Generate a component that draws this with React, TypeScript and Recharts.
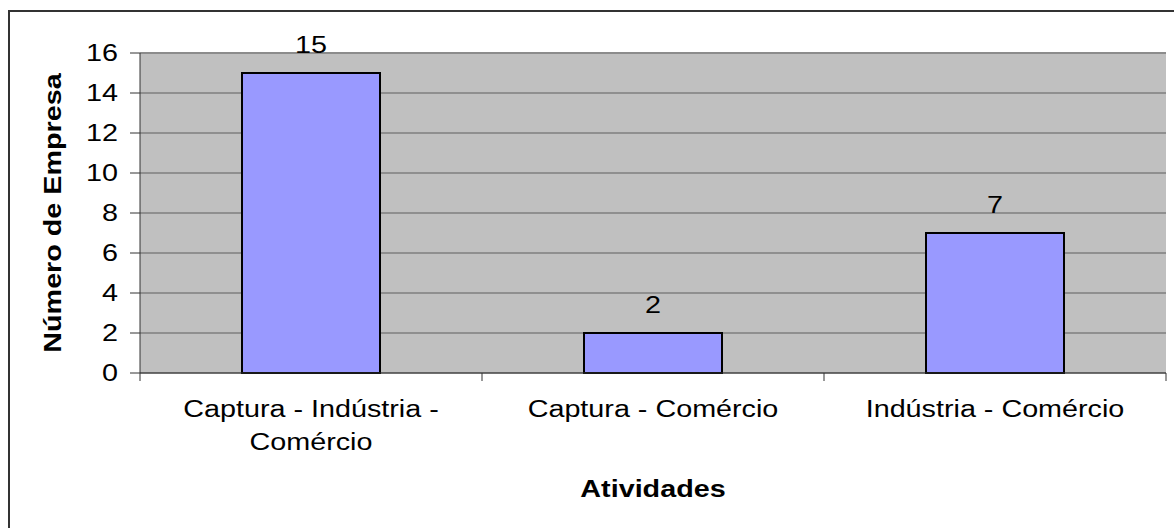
import React from 'react';
import { BarChart, Bar, XAxis, YAxis, CartesianGrid, LabelList, Label, ReferenceLine } from 'recharts';

// categorias e valores
const categorias = ['Captura - Indústria - Comércio', 'Captura - Comércio', 'Indústria - Comércio'];
const empresas = [15, 2, 7];
const linhasRotulo = [['Captura - Indústria -', 'Comércio'], ['Captura - Comércio'], ['Indústria - Comércio']];
const yTicks = [0, 2, 4, 6, 8, 10, 12, 14, 16];

const FONT = '"Liberation Sans", Arial, sans-serif';
const STRETCH = 1.25; // texto do original é mais largo
const FS = 23;

const data = categorias.map((c, i) => ({ categoria: c, valor: empresas[i], idx: i }));

function YTick(props: any) {
  const { x, y, payload } = props;
  return (
    <g transform={`translate(${x},${y}) scale(${STRETCH},1)`}>
      <text x={0} y={0} dy="0.36em" textAnchor="end" fontFamily={FONT} fontSize={FS} fill="#000">
        {payload.value}
      </text>
    </g>
  );
}

function XTick(props: any) {
  const { x, y, payload, index } = props;
  const half = payload.offset || 1026 / 6;
  const lines = linhasRotulo[index] || [String(payload.value)];
  return (
    <g>
      <line x1={x - half} x2={x - half} y1={y} y2={y + 8} stroke="#333" strokeWidth={1} />
      {index === categorias.length - 1 && (
        <line x1={x + half} x2={x + half} y1={y} y2={y + 8} stroke="#333" strokeWidth={1} />
      )}
      <g transform={`translate(${x},${y + 44}) scale(${STRETCH},1)`}>
        <text x={0} y={0} textAnchor="middle" fontFamily={FONT} fontSize={FS} fill="#000">
          {lines.map((l, i) => (
            <tspan key={i} x={0} dy={i === 0 ? 0 : 33}>{l}</tspan>
          ))}
        </text>
      </g>
    </g>
  );
}

function ValorLabel(props: any) {
  const { x, y, width, value } = props;
  return (
    <g transform={`translate(${x + width / 2},${y - 20.5}) scale(${STRETCH},1)`}>
      <text x={0} y={0} textAnchor="middle" fontFamily={FONT} fontSize={FS} fill="#000">
        {value}
      </text>
    </g>
  );
}

function TituloY(props: any) {
  const vb = props.viewBox || {};
  const cy = vb.y + vb.height / 2;
  return (
    <g transform={`translate(61,${cy}) rotate(-90) scale(${STRETCH},1)`}>
      <text x={0} y={0} textAnchor="middle" fontFamily={FONT} fontSize={FS} fontWeight="bold" fill="#000">
        Número de Empresa
      </text>
    </g>
  );
}

function TituloX(props: any) {
  const vb = props.viewBox || {};
  const cx = vb.x + vb.width / 2;
  return (
    <g transform={`translate(${cx},497) scale(${STRETCH},1)`}>
      <text x={0} y={0} textAnchor="middle" fontFamily={FONT} fontSize={FS} fontWeight="bold" fill="#000">
        Atividades
      </text>
    </g>
  );
}

export default function App() {
  return (
    <div style={{ position: 'absolute', left: 0, top: 0, width: 1174, height: 528, overflow: 'hidden', background: '#fff' }}>
      <div
        style={{
          position: 'absolute',
          left: 8,
          top: 10,
          width: 1200,
          height: 600,
          borderTop: '2px solid #333',
          borderLeft: '2px solid #333',
        }}
      />
      <div style={{ position: 'absolute', left: 0, top: 0 }}>
        <BarChart width={1174} height={528} data={data} margin={{ top: 53, right: 8, left: 80, bottom: 95 }}>
          <CartesianGrid vertical={false} fill="#C0C0C0" stroke="#5f5f5f" strokeWidth={1} />
          <XAxis
            dataKey="categoria"
            height={60}
            axisLine={{ stroke: '#333' }}
            tickLine={false}
            tickSize={0}
            tickMargin={0}
            tick={<XTick />}
            interval={0}
          >
            <Label content={<TituloX />} />
          </XAxis>
          <YAxis
            width={60}
            domain={[0, 16]}
            ticks={yTicks}
            interval={0}
            tickSize={10}
            tickMargin={12}
            axisLine={{ stroke: '#333' }}
            tickLine={{ stroke: '#333' }}
            tick={<YTick />}
          >
            <Label content={<TituloY />} />
          </YAxis>
          <YAxis
            yAxisId="dir"
            orientation="right"
            width={0}
            domain={[0, 16]}
            tick={false}
            tickLine={false}
            axisLine={{ stroke: '#999', strokeWidth: 2 }}
          />
          <ReferenceLine y={16} stroke="#8c8c8c" strokeWidth={2} />
          <Bar dataKey="valor" fill="#9999FF" stroke="#000" strokeWidth={2} barSize={138} isAnimationActive={false}>
            <LabelList dataKey="valor" content={<ValorLabel />} />
          </Bar>
        </BarChart>
      </div>
    </div>
  );
}
